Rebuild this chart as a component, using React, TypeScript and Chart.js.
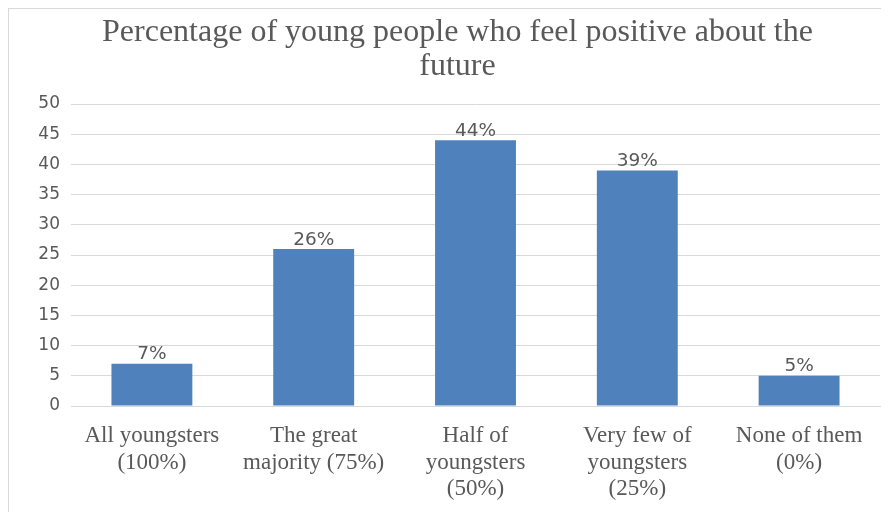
import React, { useEffect, useRef } from "react";
import { Chart, registerables } from "chart.js";

Chart.register(...registerables);

const titleLines = ["Percentage of young people who feel positive about the", "future"];
const categories: string[][] = [
  ["All youngsters", "(100%)"],
  ["The great", "majority (75%)"],
  ["Half of", "youngsters", "(50%)"],
  ["Very few of", "youngsters", "(25%)"],
  ["None of them", "(0%)"],
];
const values = [7, 26, 44, 39, 5];
const valueLabels = ["7%", "26%", "44%", "39%", "5%"];
const yMin = 0;
const yMax = 50;
const yStep = 5;

const labelPlugin = {
  id: "valueLabels",
  afterDatasetsDraw(chart: any) {
    const ctx = chart.ctx;
    const meta = chart.getDatasetMeta(0);
    ctx.save();
    ctx.font = "18.5px 'DejaVu Sans', sans-serif";
    ctx.fillStyle = "#595959";
    ctx.textAlign = "center";
    ctx.textBaseline = "bottom";
    meta.data.forEach((bar: any, i: number) => {
      ctx.fillText(valueLabels[i], bar.x, bar.y);
    });
    ctx.restore();
  },
};

const titlePlugin = {
  id: "customTitle",
  afterDraw(chart: any) {
    const ctx = chart.ctx;
    const area = chart.chartArea;
    ctx.save();
    ctx.font = "32px 'Liberation Serif', serif";
    ctx.fillStyle = "#595959";
    ctx.textAlign = "center";
    ctx.textBaseline = "middle";
    const cx = (area.left + area.right) / 2 - 18;
    titleLines.forEach((line, i) => {
      ctx.fillText(line, cx, 24 + i * 34);
    });
    ctx.restore();
  },
};

export default function App() {
  const ref = useRef<HTMLCanvasElement>(null);
  useEffect(() => {
    if (!ref.current) return;
    const chart = new Chart(ref.current, {
      type: "bar",
      data: {
        labels: categories,
        datasets: [
          {
            data: values,
            backgroundColor: "#4F81BD",
            categoryPercentage: 1,
            barPercentage: 0.5,
          },
        ],
      },
      options: {
        animation: false,
        responsive: false,
        maintainAspectRatio: false,
        layout: { padding: { left: 0, right: 9, top: 95, bottom: 0 } },
        plugins: {
          legend: { display: false },
          tooltip: { enabled: false },
          title: { display: false },
        },
        scales: {
          x: {
            grid: { display: false, drawTicks: false },
            border: { display: true, color: "#d9d9d9" },
            ticks: {
              color: "#595959",
              font: { family: "'Liberation Serif', serif", size: 23, lineHeight: 1.15 },
              padding: 17,
              maxRotation: 0,
              autoSkip: false,
            },
            afterFit: (s: any) => {
              s.height = 106;
            },
          },
          y: {
            min: yMin,
            max: yMax,
            grid: { color: "#d9d9d9", drawTicks: false },
            border: { display: false },
            ticks: {
              stepSize: yStep,
              color: "#595959",
              font: { family: "'DejaVu Sans', sans-serif", size: 17 },
              padding: 11,
            },
            afterFit: (s: any) => {
              s.width = 62;
            },
          },
        },
      },
      plugins: [labelPlugin, titlePlugin],
    });
    return () => chart.destroy();
  }, []);
  return (
    <div
      style={{
        width: 881,
        height: 504,
        borderTop: "1px solid #d9d9d9",
        borderLeft: "1px solid #d9d9d9",
        boxSizing: "border-box",
        background: "#fff",
      }}
    >
      <canvas ref={ref} width={880} height={503} style={{ display: "block" }} />
    </div>
  );
}
